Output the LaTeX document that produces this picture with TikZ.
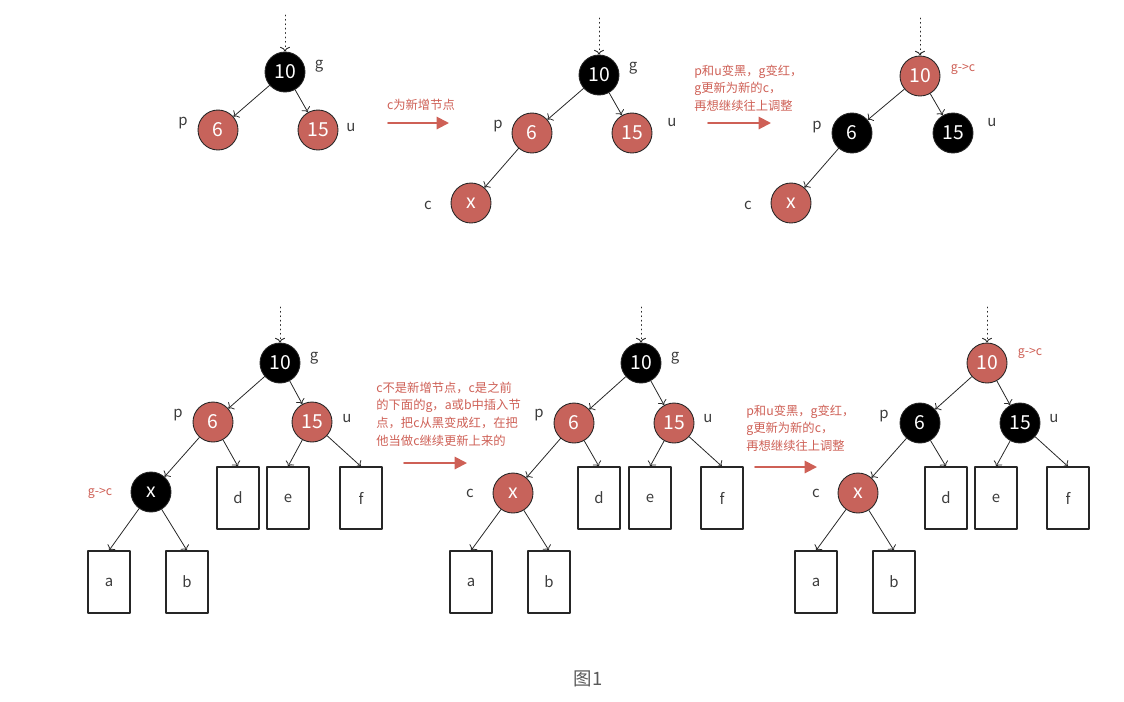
\documentclass[tikz,border=0pt]{standalone}
\usepackage{fontspec}
\setmainfont{Noto Sans CJK SC}
\usetikzlibrary{arrows.meta}
\definecolor{nodered}{RGB}{199,99,91}
\definecolor{notered}{RGB}{206,96,86}
\definecolor{labelgray}{RGB}{60,60,60}

\begin{document}
\begin{tikzpicture}[x=0.02cm,y=-0.02cm,line cap=round,line join=round,
  rbnode/.style={circle,draw=black!85,line width=0.5pt,minimum size=0.8cm,inner sep=0pt,
    font=\fontsize{11}{13}\selectfont,text=white},
  redn/.style={rbnode,fill=nodered},
  blackn/.style={rbnode,fill=black},
  leaf/.style={draw=black!85,line width=0.6pt,minimum width=0.84cm,minimum height=1.24cm,
    inner sep=0pt,font=\fontsize{8.5}{10}\selectfont,text=labelgray},
  tag/.style={font=\fontsize{8.5}{10}\selectfont,text=labelgray,inner sep=0pt},
  redtag/.style={font=\fontsize{7}{9}\selectfont,text=notered,inner sep=0pt},
  note/.style={font=\fontsize{7}{10}\selectfont,text=notered,align=left,inner sep=0pt,anchor=west},
  link/.style={->,line width=0.45pt,black!85},
  entry/.style={->,dotted,line width=0.5pt,black!85},
  gonext/.style={-{Triangle[length=7pt,width=7pt]},line width=1.1pt,notered}]
  \useasboundingbox (0,0) rectangle (1124,701);

  % top row, first tree
  \coordinate (A0) at (285,15);
  \node[blackn] (Ag) at (285,72) {10};
  \node[redn] (Ap) at (218,130) {6};
  \node[redn] (Au) at (318,130) {15};
  \node[tag] (Agl) at (319,66) {g};
  \node[tag] (Apl) at (183,123) {p};
  \node[tag] (Aul) at (351,128) {u};
  \draw[entry] (A0) -- (Ag);
  \draw[link] (Ag) -- (Ap);
  \draw[link] (Ag) -- (Au);

  \node[note,anchor=center] (n1) at (421,105) {c为新增节点};
  \coordinate (s1a) at (388,123);
  \coordinate (s1b) at (449,123);
  \draw[gonext] (s1a) -- (s1b);

  % top row, second tree
  \coordinate (B0) at (599,18);
  \node[blackn] (Bg) at (599,75) {10};
  \node[redn] (Bp) at (532,133) {6};
  \node[redn] (Bu) at (632,133) {15};
  \node[redn] (Bc) at (471,203) {x};
  \node[tag] (Bgl) at (633,68) {g};
  \node[tag] (Bpl) at (498,126) {p};
  \node[tag] (Bul) at (672,123) {u};
  \node[tag] (Bcl) at (428,205) {c};
  \draw[entry] (B0) -- (Bg);
  \draw[link] (Bg) -- (Bp);
  \draw[link] (Bg) -- (Bu);
  \draw[link] (Bp) -- (Bc);

  \node[note] (n2) at (694,88) {p和u变黑，g变红，\\g更新为新的c，\\再想继续往上调整};
  \coordinate (s2a) at (708,123);
  \coordinate (s2b) at (771,123);
  \draw[gonext] (s2a) -- (s2b);

  % top row, third tree
  \coordinate (C0) at (920,18);
  \node[redn] (Cg) at (920,76) {10};
  \node[blackn] (Cp) at (852,133) {6};
  \node[blackn] (Cu) at (953,133) {15};
  \node[redn] (Cc) at (791,203) {x};
  \node[redtag] (Cgl) at (963,69) {g->c};
  \node[tag] (Cpl) at (817,127) {p};
  \node[tag] (Cul) at (992,123) {u};
  \node[tag] (Ccl) at (748,205) {c};
  \draw[entry] (C0) -- (Cg);
  \draw[link] (Cg) -- (Cp);
  \draw[link] (Cg) -- (Cu);
  \draw[link] (Cp) -- (Cc);

  % bottom row, first tree
  \coordinate (D0) at (280,307);
  \node[blackn] (Dg) at (280,363) {10};
  \node[redn] (Dp) at (213,422) {6};
  \node[redn] (Du) at (312,422) {15};
  \node[blackn] (Dc) at (151,492) {x};
  \node[leaf] (Dd) at (238,498) {d};
  \node[leaf] (De) at (288,498) {e};
  \node[leaf] (Df) at (361,498) {f};
  \node[leaf] (Da) at (109,582) {a};
  \node[leaf] (Db) at (187,582) {b};
  \node[tag] (Dgl) at (314,358) {g};
  \node[tag] (Dpl) at (178,415) {p};
  \node[tag] (Dul) at (347,419) {u};
  \node[redtag] (Dcl) at (100,493) {g->c};
  \draw[entry] (D0) -- (Dg);
  \draw[link] (Dg) -- (Dp);
  \draw[link] (Dg) -- (Du);
  \draw[link] (Dp) -- (Dc);
  \draw[link] (Dp) -- (Dd.north);
  \draw[link] (Du) -- (De.north);
  \draw[link] (Du) -- (Df.north);
  \draw[link] (Dc) -- (Da.north);
  \draw[link] (Dc) -- (Db.north);

  \node[note] (n3) at (376,414) {c不是新增节点，c是之前\\的下面的g，a或b中插入节\\点，把c从黑变成红，在把\\他当做c继续更新上来的};
  \coordinate (s3a) at (404,463);
  \coordinate (s3b) at (467,463);
  \draw[gonext] (s3a) -- (s3b);

  % bottom row, second tree
  \coordinate (E0) at (641,307);
  \node[blackn] (Eg) at (641,363) {10};
  \node[redn] (Ep) at (574,423) {6};
  \node[redn] (Eu) at (674,423) {15};
  \node[redn] (Ec) at (513,493) {x};
  \node[leaf] (Ed) at (599,498) {d};
  \node[leaf] (Ee) at (650,498) {e};
  \node[leaf] (Ef) at (722,498) {f};
  \node[leaf] (Ea) at (471,582) {a};
  \node[leaf] (Eb) at (549,582) {b};
  \node[tag] (Egl) at (675,358) {g};
  \node[tag] (Epl) at (539,415) {p};
  \node[tag] (Eul) at (708,419) {u};
  \node[tag] (Ecl) at (470,493) {c};
  \draw[entry] (E0) -- (Eg);
  \draw[link] (Eg) -- (Ep);
  \draw[link] (Eg) -- (Eu);
  \draw[link] (Ep) -- (Ec);
  \draw[link] (Ep) -- (Ed.north);
  \draw[link] (Eu) -- (Ee.north);
  \draw[link] (Eu) -- (Ef.north);
  \draw[link] (Ec) -- (Ea.north);
  \draw[link] (Ec) -- (Eb.north);

  \node[note] (n4) at (746,428) {p和u变黑，g变红，\\g更新为新的c，\\再想继续往上调整};
  \coordinate (s4a) at (755,467);
  \coordinate (s4b) at (817,467);
  \draw[gonext] (s4a) -- (s4b);

  % bottom row, third tree
  \coordinate (F0) at (987,307);
  \node[redn] (Fg) at (987,363) {10};
  \node[blackn] (Fp) at (920,423) {6};
  \node[blackn] (Fu) at (1020,423) {15};
  \node[redn] (Fc) at (858,493) {x};
  \node[leaf] (Fd) at (946,498) {d};
  \node[leaf] (Fe) at (996,498) {e};
  \node[leaf] (Ff) at (1068,498) {f};
  \node[leaf] (Fa) at (816,582) {a};
  \node[leaf] (Fb) at (894,582) {b};
  \node[redtag] (Fgl) at (1030,353) {g->c};
  \node[tag] (Fpl) at (884,416) {p};
  \node[tag] (Ful) at (1054,419) {u};
  \node[tag] (Fcl) at (816,493) {c};
  \draw[entry] (F0) -- (Fg);
  \draw[link] (Fg) -- (Fp);
  \draw[link] (Fg) -- (Fu);
  \draw[link] (Fp) -- (Fc);
  \draw[link] (Fp) -- (Fd.north);
  \draw[link] (Fu) -- (Fe.north);
  \draw[link] (Fu) -- (Ff.north);
  \draw[link] (Fc) -- (Fa.north);
  \draw[link] (Fc) -- (Fb.north);

  \node[font=\fontsize{10.5}{12}\selectfont,text=black!65] (cap) at (588,679) {图1};
\end{tikzpicture}
\end{document}
